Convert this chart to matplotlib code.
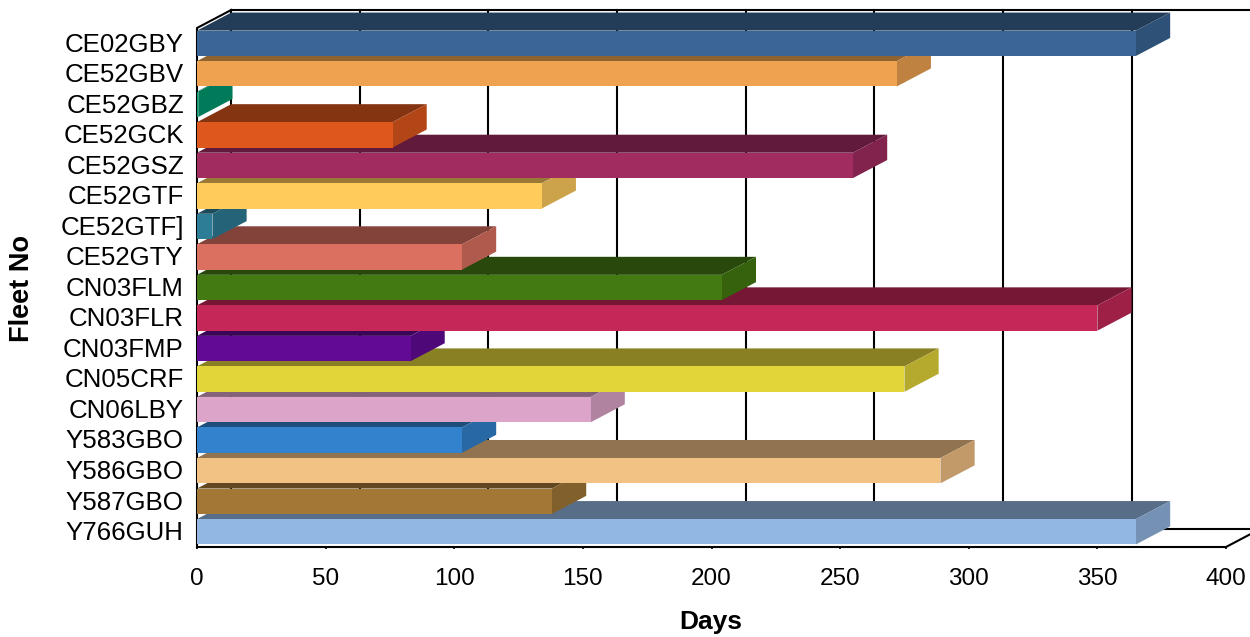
import matplotlib
matplotlib.use('Agg')
import matplotlib.pyplot as plt
from matplotlib.colors import to_rgb
from matplotlib.patches import Polygon
from matplotlib.transforms import ScaledTranslation

# - - - data
fleet_no = ['CE02GBY', 'CE52GBV', 'CE52GBZ', 'CE52GCK', 'CE52GSZ', 'CE52GTF',
            'CE52GTF]', 'CE52GTY', 'CN03FLM', 'CN03FLR', 'CN03FMP', 'CN05CRF',
            'CN06LBY', 'Y583GBO', 'Y586GBO', 'Y587GBO', 'Y766GUH']
days = [365, 272, 0.5, 76, 255, 134, 6, 103, 204, 350, 83, 275, 153, 103, 289, 138, 365]
x_ticks = [0, 50, 100, 150, 200, 250, 300, 350, 400]

colours = ['#3A6595', '#EFA351', '#009A70', '#DE571D', '#A12C60', '#FFCC5C',
           '#2E7D96', '#DC7060', '#437A12', '#C52858', '#620A96', '#E2D53A',
           '#DCA4C8', '#3282CE', '#F2C184', '#A37836', '#92B7E2']

# depth of the fake 3D box, in data units
depth_x = 13.3
depth_y = 0.59
bar_h = 0.83


def shade(col, f):
    return tuple(c * f for c in to_rgb(col))


plt.rcParams['font.family'] = ['Liberation Sans', 'DejaVu Sans']

fig = plt.figure(figsize=(12.5, 6.37), dpi=100)
ax = fig.add_axes([197 / 1250, 1 - 547 / 637, 1029 / 1250, 519 / 637])
ax.set_xlim(0, 400)
ax.set_ylim(16.5, -0.5)
for s in ax.spines.values():
    s.set_visible(False)

# - - - walls and floor
y_front = 16.5
y_top = -0.5
wall = dict(color='black', lw=1.5, clip_on=False, zorder=1)
for v in x_ticks:
    ax.plot([v + depth_x, v + depth_x], [y_front - depth_y, y_top - depth_y], **wall)
ax.plot([depth_x, 430], [y_top - depth_y, y_top - depth_y], **wall)
ax.plot([depth_x, 430], [y_front - depth_y, y_front - depth_y], **wall)
ax.plot([0, 400, 400 + depth_x], [y_front, y_front, y_front - depth_y], **wall)
ax.plot([0, 0, depth_x], [y_front, y_top, y_top - depth_y], **wall)

# - - - bars, bottom row first so upper rows cover the top faces below them
for i in range(len(days) - 1, -1, -1):
    v = days[i]
    z = 2 + (len(days) - i)
    top = i - bar_h / 2
    bot = i + bar_h / 2
    ax.add_patch(Polygon([(0, top), (depth_x, top - depth_y), (v + depth_x, top - depth_y), (v, top)],
                         fc=shade(colours[i], 0.6), ec='none', clip_on=False, zorder=z))
    ax.add_patch(Polygon([(v, top), (v + depth_x, top - depth_y), (v + depth_x, bot - depth_y), (v, bot)],
                         fc=shade(colours[i], 0.8), ec='none', clip_on=False, zorder=z))
    ax.barh(i, v, height=bar_h, color=colours[i], zorder=z + 0.5, clip_on=False)

ax.set_yticks(range(len(fleet_no)))
ax.set_yticklabels(fleet_no, fontsize=18.6)
ax.set_xticks(x_ticks)
ax.set_xticklabels([str(t) for t in x_ticks], fontsize=17.5)
ax.tick_params(axis='y', length=0, pad=9.5)
ax.tick_params(axis='x', length=1.5, width=1.2, pad=13.5)

# labels sit about a pixel higher than the row centres
up = ScaledTranslation(0, 1.2 / 100, fig.dpi_scale_trans)
for lab in ax.get_yticklabels():
    lab.set_transform(lab.get_transform() + up)

fig.text(711 / 1250, 1 - 622 / 637, 'Days', fontsize=19, fontweight='bold', ha='center', va='center')
fig.text(22 / 1250, 1 - 289 / 637, 'Fleet No', fontsize=19.5, fontweight='bold', rotation=90,
         ha='center', va='center')

plt.savefig('out.png', dpi=100)
